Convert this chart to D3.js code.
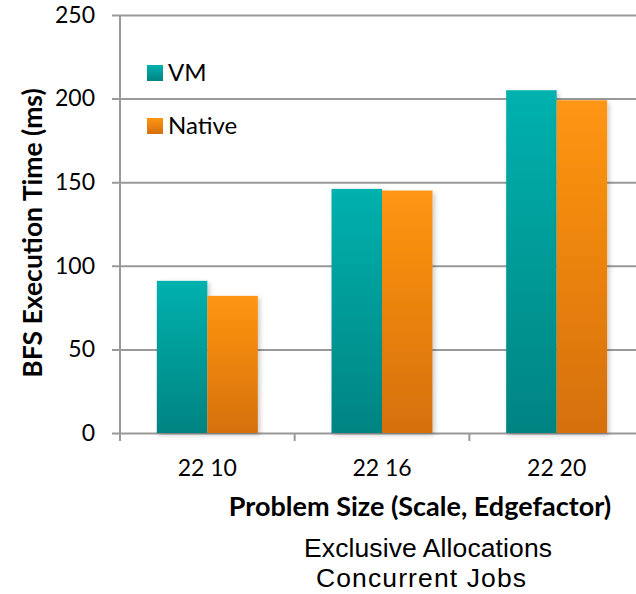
<!DOCTYPE html>
<html>
<head>
<meta charset="utf-8">
<script src="https://cdn.jsdelivr.net/npm/d3@7"></script>
<style>
  html, body { margin: 0; padding: 0; background: #fff; }
  svg { display: block; }
</style>
</head>
<body>
<svg id="chart" width="636" height="594"></svg>
<script>
const categories = ["22 10", "22 16", "22 20"];
const seriesNames = ["VM", "Native"];
const vmValues = [91, 146, 205];
const nativeValues = [82, 145, 199];
const yTicks = [0, 50, 100, 150, 200, 250];

const seriesValues = { "VM": vmValues, "Native": nativeValues };
const colors = {
  "VM": ["#00b1ad", "#008482"],
  "Native": ["#ff9612", "#d5700e"]
};

const svg = d3.select("#chart");
const plotL = 120, plotR = 644, plotT = 15, plotB = 433;
const font = "Lato, 'Open Sans', sans-serif";

const defs = svg.append("defs");
seriesNames.forEach((s, i) => {
  const g = defs.append("linearGradient").attr("id", "grad" + i)
    .attr("x1", 0).attr("y1", 0).attr("x2", 0).attr("y2", 1);
  g.append("stop").attr("offset", "0%").attr("stop-color", colors[s][0]);
  g.append("stop").attr("offset", "100%").attr("stop-color", colors[s][1]);
});
const f = defs.append("filter").attr("id", "shadow")
  .attr("x", "-20%").attr("y", "-5%").attr("width", "140%").attr("height", "110%");
f.append("feDropShadow").attr("dx", 2).attr("dy", 2).attr("stdDeviation", 2.5)
  .attr("flood-color", "#000").attr("flood-opacity", 0.22);

const x = d3.scaleBand().domain(categories).range([plotL, plotR]).paddingInner(0).paddingOuter(0);
const xs = d3.scaleBand().domain(seriesNames).range([0, x.bandwidth()]).paddingInner(0).paddingOuter(0.73);
const y = d3.scaleLinear().domain([0, 250]).range([plotB, plotT]);

// gridlines with left tick marks
const yAxis = d3.axisLeft(y).tickValues(yTicks).tickSize(-(plotR - plotL)).tickPadding(25).tickFormat(d3.format("d"));
const gy = svg.append("g").attr("transform", `translate(${plotL},0)`).call(yAxis);
gy.select(".domain").remove();
gy.selectAll(".tick line").attr("x1", -8).attr("stroke", "#999").attr("stroke-width", 2);
gy.selectAll(".tick text").attr("font-family", font).attr("font-size", 23).attr("fill", "#000");

// y axis vertical line
svg.append("line").attr("x1", plotL).attr("x2", plotL).attr("y1", plotT).attr("y2", plotB + 8)
  .attr("stroke", "#999").attr("stroke-width", 2);

// x axis
const xAxis = d3.axisBottom(x).tickSize(0).tickFormat(d => d);
const gx = svg.append("g").attr("transform", `translate(0,${plotB})`).call(xAxis);
gx.select(".domain").remove();
gx.selectAll(".tick text").attr("y", 43).attr("dy", null)
  .attr("font-family", font).attr("font-size", 23).attr("fill", "#000");
// category boundary ticks
const bounds = categories.map(c => x(c));
svg.append("g").selectAll("line").data(bounds).join("line")
  .attr("x1", d => d).attr("x2", d => d).attr("y1", plotB).attr("y2", plotB + 8)
  .attr("stroke", "#999").attr("stroke-width", 2);

// bars
const groups = svg.append("g").selectAll("g").data(categories).join("g")
  .attr("transform", c => `translate(${x(c)},0)`);
groups.selectAll("rect").data((c, ci) => seriesNames.map((s, si) => ({ s, si, v: seriesValues[s][ci] })))
  .join("rect")
  .attr("x", d => xs(d.s))
  .attr("width", xs.bandwidth())
  .attr("y", d => y(d.v))
  .attr("height", d => y(0) - y(d.v))
  .attr("fill", d => `url(#grad${d.si})`)
  .attr("filter", "url(#shadow)");

// legend
const leg = svg.append("g");
seriesNames.forEach((s, i) => {
  const ly = 65 + i * 53;
  leg.append("rect").attr("x", 147).attr("y", ly).attr("width", 16).attr("height", 16)
    .attr("fill", `url(#grad${i})`);
  leg.append("text").attr("x", 168).attr("y", ly + 16).text(s)
    .attr("font-family", font).attr("font-size", 24).attr("fill", "#000");
});

// y title
svg.append("text").attr("transform", "translate(42,233) rotate(-90)")
  .attr("text-anchor", "middle").attr("font-family", font).attr("font-weight", "bold")
  .attr("font-size", 26.5).text("BFS Execution Time (ms)");

// x title
svg.append("text").attr("x", 420).attr("y", 516).attr("text-anchor", "middle")
  .attr("font-family", font).attr("font-weight", "bold").attr("font-size", 27)
  .text("Problem Size (Scale, Edgefactor)");

// subtitle
const sub = ["Exclusive Allocations", "Concurrent Jobs"];
svg.append("g").selectAll("text").data(sub).join("text")
  .attr("x", (d, i) => i === 0 ? 428 : 421).attr("y", (d, i) => 557 + i * 30)
  .attr("text-anchor", "middle").attr("font-family", "'Liberation Sans', Arial, sans-serif")
  .attr("font-size", 26.5).attr("fill", "#000")
  .attr("textLength", (d, i) => i === 0 ? 248 : 210).attr("lengthAdjust", "spacing")
  .text(d => d);
</script>
</body>
</html>
